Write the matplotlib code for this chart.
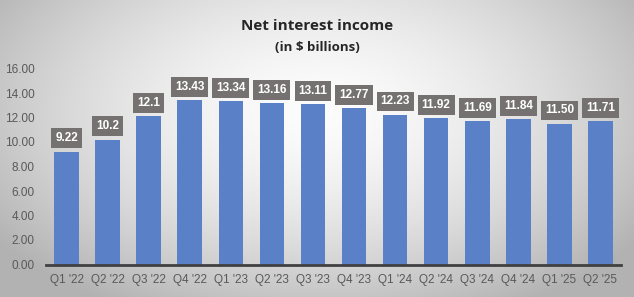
import numpy as np
import matplotlib
matplotlib.use("Agg")
import matplotlib.pyplot as plt

quarters = ["Q1 '22", "Q2 '22", "Q3 '22", "Q4 '22", "Q1 '23", "Q2 '23", "Q3 '23",
            "Q4 '23", "Q1 '24", "Q2 '24", "Q3 '24", "Q4 '24", "Q1 '25", "Q2 '25"]
nii = [9.22, 10.2, 12.1, 13.43, 13.34, 13.16, 13.11, 12.77, 12.23, 11.92, 11.69, 11.84, 11.50, 11.71]
labels = ["9.22", "10.2", "12.1", "13.43", "13.34", "13.16", "13.11", "12.77",
          "12.23", "11.92", "11.69", "11.84", "11.50", "11.71"]
yticks = [0, 2, 4, 6, 8, 10, 12, 14, 16]

fig = plt.figure(figsize=(6.34, 2.97), dpi=100)

# radial gradient background
bg = fig.add_axes([0, 0, 1, 1], zorder=-10)
yy, xx = np.mgrid[0:297, 0:634]
r = np.sqrt(((xx - 317) / 400.0) ** 2 + ((yy - 110) / 230.0) ** 2)
v = np.clip(0.99 - 0.30 * r ** 1.6, 0.70, 1.0)
bg.imshow(np.dstack([v, v, v]), extent=[0, 1, 0, 1], aspect='auto', origin='upper')
bg.axis('off')

narrow = ['Liberation Sans Narrow', 'Liberation Sans', 'DejaVu Sans']

ax = fig.add_axes([46 / 634, 32.5 / 297, 575 / 634, 196 / 297])
ax.patch.set_alpha(0)
x = np.arange(len(quarters))
ax.bar(x, nii, width=0.6, color='#5A80C8', zorder=2)
ax.set_xlim(-0.5, len(quarters) - 0.5)
ax.set_ylim(0, 16)
ax.set_yticks(yticks)
ax.set_yticklabels([f"{t:.2f}" for t in yticks])
ax.set_xticks(x)
ax.set_xticklabels(quarters)
ax.tick_params(axis='both', length=0, colors='#595959')
ax.tick_params(axis='y', pad=8)
ax.tick_params(axis='x', pad=7)
for lab in ax.get_xticklabels() + ax.get_yticklabels():
    lab.set_family(narrow)
    lab.set_fontsize(8.5)
for s in ['top', 'right', 'left']:
    ax.spines[s].set_visible(False)
ax.spines['bottom'].set_color('#404040')
ax.spines['bottom'].set_linewidth(2)

for xi, val, lab in zip(x, nii, labels):
    ax.annotate(lab, (xi, val), xytext=(0, 9.5), textcoords='offset points',
                ha='center', va='center', color='white', fontsize=8.5, fontweight='bold',
                family=narrow,
                bbox=dict(boxstyle='square,pad=0.33', fc='#767171', ec='none'), zorder=3)

fig.text(0.5, 1 - 26 / 297, "Net interest income", ha='center', va='center',
         fontsize=11, fontweight='bold', color='#262626', family=['Open Sans', 'DejaVu Sans'])
fig.text(0.5, 1 - 47 / 297, "(in $ billions)", ha='center', va='center',
         fontsize=9.5, fontweight='bold', color='#262626', family=['Open Sans', 'DejaVu Sans'])

fig.savefig("out.png", dpi=100)
